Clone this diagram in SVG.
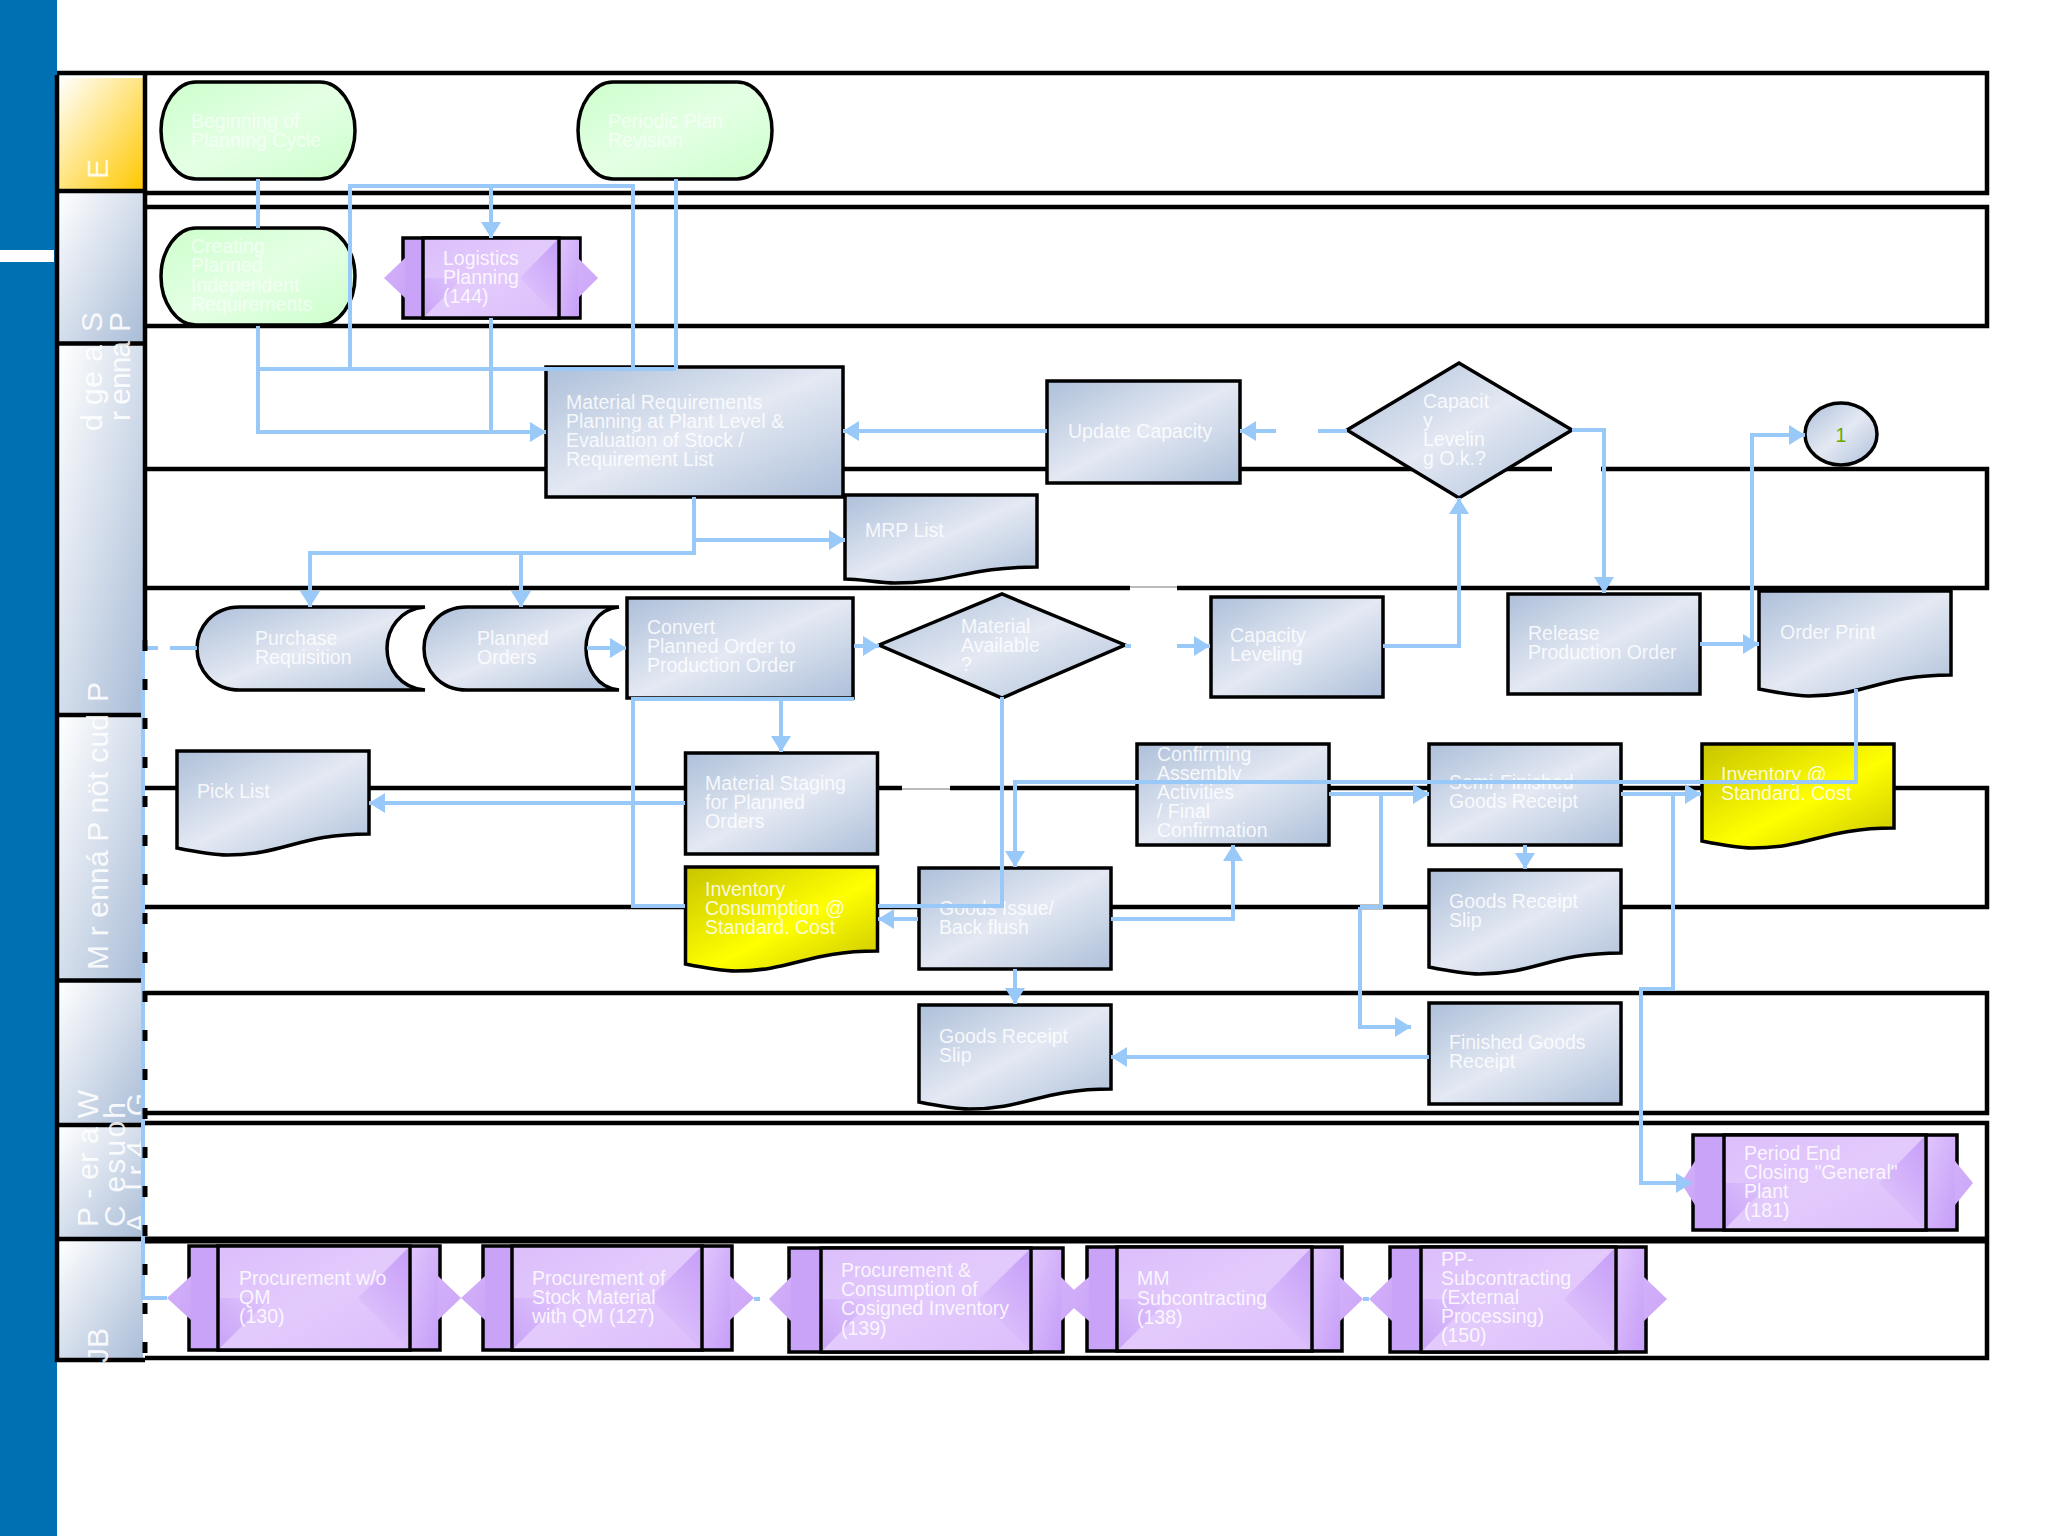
<svg xmlns="http://www.w3.org/2000/svg" width="2048" height="1536" viewBox="0 0 2048 1536">
<style>
.l{stroke:#000;stroke-width:4.5;fill:none}
.gap{stroke:#bbb;stroke-width:2;fill:none}
.n{stroke:#000;stroke-width:3.500;fill:url(#blue)}
.g{stroke:#000;stroke-width:3.500;fill:url(#green)}
.y{stroke:#000;stroke-width:3.500;fill:url(#yellow)}
.t{font-family:"Liberation Sans",Arial,sans-serif;font-size:19.5px;fill:#fff;fill-opacity:.85}
.tg{font-family:"Liberation Sans",Arial,sans-serif;font-size:19.5px;fill:#fff;fill-opacity:.65}
.h{font-family:"Liberation Sans",Arial,sans-serif;font-size:30px;fill:#fff;fill-opacity:.9}
.c{stroke:#99c9f9;stroke-width:4;fill:none}
.ca{stroke:#99c9f9;stroke-width:4;fill:none;marker-end:url(#a)}
.ps{stroke:#000;stroke-width:3.500;fill:#c9a3f8}
.pr{fill:url(#pside)}
.pc{stroke:#000;stroke-width:3.500;fill:url(#pcen)}
.pw{fill:url(#pwed)}
.pv{fill:url(#pwl)}
.pl{stroke:#000;stroke-width:3.500;fill:none}
.pt{fill:url(#ptip)}
</style>
<defs>
<linearGradient id="blue" x1="0" y1="0" x2="1" y2="1"><stop offset="0" stop-color="#adbfd9"/><stop offset=".5" stop-color="#e4e9f3"/><stop offset="1" stop-color="#adbfd9"/></linearGradient>
<linearGradient id="green" x1="0" y1="0" x2="1" y2="1"><stop offset="0" stop-color="#ccffcc"/><stop offset=".5" stop-color="#e4ffe4"/><stop offset="1" stop-color="#ccffcc"/></linearGradient>
<linearGradient id="yellow" x1="0" y1="0" x2="1" y2="1"><stop offset="0" stop-color="#c8c400"/><stop offset=".55" stop-color="#ffff00"/><stop offset="1" stop-color="#c8c400"/></linearGradient>
<linearGradient id="hy" x1="0" y1="0" x2="1" y2="1"><stop offset="0" stop-color="#fff"/><stop offset="1" stop-color="#ffc800"/></linearGradient>
<linearGradient id="hb" x1="0" y1="0" x2="1" y2="1"><stop offset="0" stop-color="#fff"/><stop offset="1" stop-color="#a9bcd7"/></linearGradient>
<linearGradient id="pside" x1="0" y1="0" x2="1" y2="1"><stop offset="0" stop-color="#e0c5fc"/><stop offset="1" stop-color="#c69ef8"/></linearGradient>
<linearGradient id="pcen" x1="0" y1="0" x2="1" y2="1"><stop offset="0" stop-color="#dcbefb"/><stop offset=".5" stop-color="#e3cafc"/><stop offset="1" stop-color="#dcbefb"/></linearGradient>
<linearGradient id="pwed" x1="1" y1="0" x2=".4" y2="1"><stop offset="0" stop-color="#c69ef8"/><stop offset="1" stop-color="#e0c5fc"/></linearGradient>
<linearGradient id="pwl" x1="0" y1="1" x2="1" y2="0"><stop offset="0" stop-color="#c9a3f8"/><stop offset="1" stop-color="#e0c5fc"/></linearGradient>
<linearGradient id="ptip" x1="0" y1="0" x2="1" y2="1"><stop offset="0" stop-color="#d3b0f9"/><stop offset="1" stop-color="#cba6f8"/></linearGradient>
<marker id="a" markerUnits="userSpaceOnUse" markerWidth="16" markerHeight="20" refX="16" refY="10" orient="auto"><path d="M0,0L16,10L0,20z" fill="#99c9f9"/></marker>
</defs>

<g id="background">
<rect x="0" y="0" width="57" height="1536" fill="#0170b2"/>
<rect x="0" y="250" width="54" height="12" fill="#fff"/>
</g>

<g id="lanes">
<path class="l" d="M57,73H1987V193H145M145,207H1987V326H145"/>
<path class="l" d="M145,469H1552M1601,469H1987V588H1177M1130,588H145"/>
<path class="l" d="M145,788H902M950,788H1987V907H145"/>
<path class="l" d="M145,993H1987V1113H145M145,1123H1987V1358H145"/>
<path class="l" d="M145,1240H1987" style="stroke-width:7"/>
<path class="gap" d="M1130,587H1177M902,789H950"/>
</g>

<g id="headers">
<rect x="59" y="78" width="84" height="112" fill="url(#hy)"/>
<rect x="59" y="193" width="84" height="149" fill="url(#hb)"/>
<rect x="59" y="345" width="84" height="368" fill="url(#hb)"/>
<rect x="59" y="717" width="84" height="262" fill="url(#hb)"/>
<rect x="59" y="982" width="84" height="142" fill="url(#hb)"/>
<rect x="59" y="1126" width="84" height="112" fill="url(#hb)"/>
<rect x="59" y="1241" width="84" height="118" fill="url(#hb)"/>
<path class="l" d="M57,75V1360H145M57,191H145M57,343.500H145M57,715H145M57,980.500H145M57,1125H145M57,1239H145M145,75V640"/>
<text class="h" transform="translate(108,179) rotate(-90)">E</text>
<text class="h" transform="translate(102,332) rotate(-90)">S</text>
<text class="h" transform="translate(130,332) rotate(-90)">P</text>
<text class="h" transform="translate(102,431) rotate(-90)" textLength="86">d ge a</text>
<text class="h" transform="translate(130,421) rotate(-90)" textLength="80">r enna</text>
<text class="h" transform="translate(108,702) rotate(-90)">P</text>
<text class="h" transform="translate(108,970) rotate(-90)" textLength="256">M r enná P nöt cud</text>
<text class="h" transform="translate(98,1227) rotate(-90)" textLength="137">P - er a W</text>
<text class="h" transform="translate(125,1227) rotate(-90)" textLength="125">C esuoh</text>
<text class="h" transform="translate(147,1233) rotate(-90)" textLength="140">A lr4 G</text>
<text class="h" transform="translate(108,1363) rotate(-90)">JB</text>
</g>

<g id="beginning"><path class="g" d="M196,82H320C339,82 355,104 355,130.500C355,157 339,179 320,179H196C177,179 161,157 161,130.500C161,104 177,82 196,82Z"/><text class="tg" x="191" y="128">Beginning of<tspan x="191" dy="19">Planning Cycle</tspan></text></g>
<g id="periodic"><path class="g" d="M613,82H737C756,82 772,104 772,130.500C772,157 756,179 737,179H613C594,179 578,157 578,130.500C578,104 594,82 613,82Z"/><text class="tg" x="608" y="128">Periodic Plan<tspan x="608" dy="19">Revision</tspan></text></g>
<g id="creating"><path class="g" d="M196,228H320C339,228 355,250 355,276.500C355,303 339,325 320,325H196C177,325 161,303 161,276.500C161,250 177,228 196,228Z"/><text class="tg" x="191" y="253">Creating<tspan x="191" dy="19.300">Planned</tspan><tspan x="191" dy="19.300">Independent</tspan><tspan x="191" dy="19.300">Requirements</tspan></text></g>

<g id="logistics"><rect class="ps" x="403" y="238" width="177" height="80"/><rect class="pr" x="559" y="240" width="20" height="76"/><rect class="pc" x="423" y="238" width="136" height="80"/><polygon class="pw" points="557,240 520,278 557,316"/><polygon class="pv" points="425,316 425,278 463,278"/><polygon class="pt" points="405,258 384,278 405,298"/><polygon class="pt" points="578,258 598,278 578,298"/><text class="t" x="443" y="265">Logistics<tspan x="443" dy="19">Planning</tspan><tspan x="443" dy="19">(144)</tspan></text></g>

<g id="mrp"><rect class="n" x="546" y="367" width="297" height="130"/><text class="t" x="566" y="409">Material Requirements<tspan x="566" dy="19">Planning at Plant Level &amp;</tspan><tspan x="566" dy="19">Evaluation of Stock /</tspan><tspan x="566" dy="19">Requirement List</tspan></text></g>
<g id="update"><rect class="n" x="1047" y="381" width="193" height="102"/><text class="t" x="1068" y="438">Update Capacity</text></g>
<g id="capdiamond"><polygon class="n" points="1347,430 1459,363 1572,430 1459,498"/><text class="t" x="1423" y="408">Capacit<tspan x="1423" dy="19">y</tspan><tspan x="1423" dy="19">Levelin</tspan><tspan x="1423" dy="19">g O.k.?</tspan></text></g>
<g id="circle1"><ellipse class="n" cx="1841" cy="434" rx="36" ry="31"/><text x="1841" y="442" text-anchor="middle" font-family="Liberation Sans, Arial, sans-serif" font-size="19.500" fill="#66aa00">1</text></g>
<g id="mrplist"><path class="n" d="M845,495h192v72c-70,0 -85,16 -142,16c-15,0 -35,-4 -50,-4z"/><text class="t" x="865" y="537">MRP List</text></g>

<g id="purchase"><path class="n" d="M425,607H240C212,607 197,628 197,648.500C197,669 212,690 240,690H425C400,688 387,668 387,648.500C387,629 400,609 425,607Z"/><text class="t" x="255" y="645">Purchase<tspan x="255" dy="19">Requisition</tspan></text></g>
<g id="planned"><path class="n" d="M619,607H467C439,607 424,628 424,648.500C424,669 439,690 467,690H619C597,688 586,668 586,648.500C586,629 597,609 619,607Z"/><text class="t" x="477" y="645">Planned<tspan x="477" dy="19">Orders</tspan></text></g>
<g id="convert"><rect class="n" x="627" y="598" width="226" height="100"/><text class="t" x="647" y="634">Convert<tspan x="647" dy="19">Planned Order to</tspan><tspan x="647" dy="19">Production Order</tspan></text></g>
<g id="matavail"><polygon class="n" points="879,645 1002,594 1125,645 1002,698"/><text class="t" x="961" y="633">Material<tspan x="961" dy="19">Available</tspan><tspan x="961" dy="19">?</tspan></text></g>
<g id="capleveling"><rect class="n" x="1211" y="597" width="172" height="100"/><text class="t" x="1230" y="642">Capacity<tspan x="1230" dy="19">Leveling</tspan></text></g>
<g id="release"><rect class="n" x="1508" y="594" width="192" height="100"/><text class="t" x="1528" y="640">Release<tspan x="1528" dy="19">Production Order</tspan></text></g>
<g id="orderprint"><path class="n" d="M1759,591h192v84c-70,0 -85,21 -142,21c-15,0 -35,-4 -50,-7z"/><text class="t" x="1780" y="639">Order Print</text></g>

<g id="picklist"><path class="n" d="M177,751h192v83c-70,0 -85,21 -142,21c-15,0 -35,-4 -50,-7z"/><text class="t" x="197" y="798">Pick List</text></g>
<g id="staging"><rect class="n" x="685.500" y="753" width="192" height="101"/><text class="t" x="705" y="790">Material Staging<tspan x="705" dy="19">for Planned</tspan><tspan x="705" dy="19">Orders</tspan></text></g>
<g id="confirming"><rect class="n" x="1137" y="744" width="192" height="101"/><text class="t" x="1157" y="761">Confirming<tspan x="1157" dy="19">Assembly</tspan><tspan x="1157" dy="19">Activities</tspan><tspan x="1157" dy="19">/ Final</tspan><tspan x="1157" dy="19">Confirmation</tspan></text></g>
<g id="semi"><rect class="n" x="1429" y="744" width="192" height="101"/><text class="t" x="1449" y="789">Semi-Finished<tspan x="1449" dy="19">Goods Receipt</tspan></text></g>
<g id="invstd"><path class="y" d="M1702,744h192v84c-70,0 -85,20 -142,20c-15,0 -35,-4 -50,-7z"/><text class="t" x="1721" y="781">Inventory @<tspan x="1721" dy="19">Standard. Cost</tspan></text></g>
<g id="invcons"><path class="y" d="M685.500,867h192v84c-70,0 -85,20 -142,20c-15,0 -35,-4 -50,-7z"/><text class="t" x="705" y="896">Inventory<tspan x="705" dy="19">Consumption @</tspan><tspan x="705" dy="19">Standard. Cost</tspan></text></g>
<g id="goodsissue"><rect class="n" x="919" y="868" width="192" height="101"/><text class="t" x="939" y="915">Goods Issue/<tspan x="939" dy="19">Back flush</tspan></text></g>
<g id="slip2"><path class="n" d="M1429,870h192v83c-70,0 -85,21 -142,21c-15,0 -35,-4 -50,-7z"/><text class="t" x="1449" y="908">Goods Receipt<tspan x="1449" dy="19">Slip</tspan></text></g>
<g id="slip1"><path class="n" d="M919,1005h192v84c-70,0 -85,20 -142,20c-15,0 -35,-4 -50,-7z"/><text class="t" x="939" y="1043">Goods Receipt<tspan x="939" dy="19">Slip</tspan></text></g>
<g id="finished"><rect class="n" x="1429" y="1003" width="192" height="101"/><text class="t" x="1449" y="1049">Finished Goods<tspan x="1449" dy="19">Receipt</tspan></text></g>

<g id="period"><rect class="ps" x="1693" y="1135" width="264" height="95"/><rect class="pr" x="1926" y="1137" width="29" height="91"/><rect class="pc" x="1724" y="1135" width="202" height="95"/><polygon class="pw" points="1924,1137 1879,1183 1924,1228"/><polygon class="pv" points="1726,1228 1726,1183 1770,1183"/><polygon class="pt" points="1695,1161 1681,1183 1695,1205"/><polygon class="pt" points="1955,1161 1973,1183 1955,1205"/><text class="t" x="1744" y="1160">Period End<tspan x="1744" dy="19">Closing "General"</tspan><tspan x="1744" dy="19">Plant</tspan><tspan x="1744" dy="19">(181)</tspan></text></g>
<g id="p130"><rect class="ps" x="189" y="1246" width="251" height="104"/><rect class="pr" x="410" y="1248" width="28" height="100"/><rect class="pc" x="218" y="1246" width="192" height="104"/><polygon class="pw" points="408,1248 358,1298 408,1348"/><polygon class="pv" points="220,1348 220,1298 270,1298"/><polygon class="pt" points="191,1276 167,1298 191,1320"/><polygon class="pt" points="438,1276 461,1298 438,1320"/><text class="t" x="239" y="1285">Procurement w/o<tspan x="239" dy="19">QM</tspan><tspan x="239" dy="19">(130)</tspan></text></g>
<g id="p127"><rect class="ps" x="483" y="1246" width="249" height="104"/><rect class="pr" x="702" y="1248" width="28" height="100"/><rect class="pc" x="512" y="1246" width="190" height="104"/><polygon class="pw" points="700,1248 650,1298 700,1348"/><polygon class="pv" points="514,1348 514,1298 564,1298"/><polygon class="pt" points="485,1276 461,1298 485,1320"/><polygon class="pt" points="730,1276 754,1298 730,1320"/><text class="t" x="532" y="1285">Procurement of<tspan x="532" dy="19">Stock Material</tspan><tspan x="532" dy="19">with QM (127)</tspan></text></g>
<g id="p139"><rect class="ps" x="789" y="1248" width="274" height="104"/><rect class="pr" x="1031" y="1250" width="30" height="100"/><rect class="pc" x="821" y="1248" width="210" height="104"/><polygon class="pw" points="1029,1250 979,1299 1029,1350"/><polygon class="pv" points="823,1350 823,1299 873,1299"/><polygon class="pt" points="791,1277 769,1299 791,1321"/><polygon class="pt" points="1061,1277 1083,1299 1061,1321"/><text class="t" x="841" y="1277">Procurement &amp;<tspan x="841" dy="19.200">Consumption of</tspan><tspan x="841" dy="19.200">Cosigned Inventory</tspan><tspan x="841" dy="19.200">(139)</tspan></text></g>
<g id="p138"><rect class="ps" x="1087" y="1247" width="255" height="104"/><rect class="pr" x="1312" y="1249" width="28" height="100"/><rect class="pc" x="1117" y="1247" width="195" height="104"/><polygon class="pw" points="1310,1249 1262,1299 1310,1349"/><polygon class="pv" points="1119,1349 1119,1299 1169,1299"/><polygon class="pt" points="1089,1277 1063,1299 1089,1321"/><polygon class="pt" points="1340,1277 1363,1299 1340,1321"/><text class="t" x="1137" y="1285">MM<tspan x="1137" dy="19.500">Subcontracting</tspan><tspan x="1137" dy="19.500">(138)</tspan></text></g>
<g id="p150"><rect class="ps" x="1390" y="1247" width="256" height="105"/><rect class="pr" x="1616" y="1249" width="28" height="101"/><rect class="pc" x="1421" y="1247" width="195" height="105"/><polygon class="pw" points="1614,1249 1564,1299 1614,1350"/><polygon class="pv" points="1423,1350 1423,1299 1473,1299"/><polygon class="pt" points="1392,1277 1369,1299 1392,1321"/><polygon class="pt" points="1644,1277 1667,1299 1644,1321"/><text class="t" x="1441" y="1266">PP-<tspan x="1441" dy="19">Subcontracting</tspan><tspan x="1441" dy="19">(External</tspan><tspan x="1441" dy="19">Processing)</tspan><tspan x="1441" dy="19">(150)</tspan></text></g>

<g id="connectors">
<path class="c" d="M258,179V228M258,326V369H676M350,369V186H633V369M676,179V369"/>
<path class="ca" d="M258,369V432H546"/>
<path class="ca" d="M491,186V238"/>
<path class="c" d="M491,318V432"/>
<path class="ca" d="M694,497V540H845"/>
<path class="c" d="M694,540V553H521"/>
<path class="ca" d="M521,553H310V607"/>
<path class="ca" d="M521,553V607"/>
<path class="ca" d="M587,648H626"/>
<path class="c" d="M197,648H170M158,648H143V1298H167"/>
<path class="ca" d="M854,646H879"/>
<path class="c" d="M1125,646H1131"/>
<path class="ca" d="M1177,646H1210"/>
<path class="ca" d="M1047,431H843"/>
<path class="ca" d="M1276,431H1240"/>
<path class="c" d="M1318,431H1347"/>
<path class="ca" d="M1572,430H1604V593"/>
<path class="ca" d="M1383,646H1459V498"/>
<path class="ca" d="M1700,644H1759"/>
<path class="ca" d="M1752,644V435H1805"/>
<path class="ca" d="M1856,689V782H1015V867"/>
<path class="c" d="M854,699H633V906H685"/>
<path class="ca" d="M781,699V752"/>
<path class="ca" d="M685,803H369"/>
<path class="c" d="M1002,697V906H878"/>
<path class="ca" d="M918,919H878"/>
<path class="ca" d="M1111,919H1233V845"/>
<path class="ca" d="M1015,969V1004"/>
<path class="ca" d="M1329,794H1429"/>
<path class="c" d="M1381,794V907H1360"/>
<path class="ca" d="M1360,907V1027H1411"/>
<path class="ca" d="M1621,794H1701"/>
<path class="ca" d="M1673,795V989H1641V1183H1692"/>
<path class="ca" d="M1525,845V869"/>
<path class="ca" d="M1429,1057H1111"/>
<path class="c" d="M754,1299H760M1363,1299H1369"/>
<path d="M145,640V1360" stroke="#000" stroke-width="5" stroke-dasharray="11 28" fill="none"/>
</g>
</svg>
